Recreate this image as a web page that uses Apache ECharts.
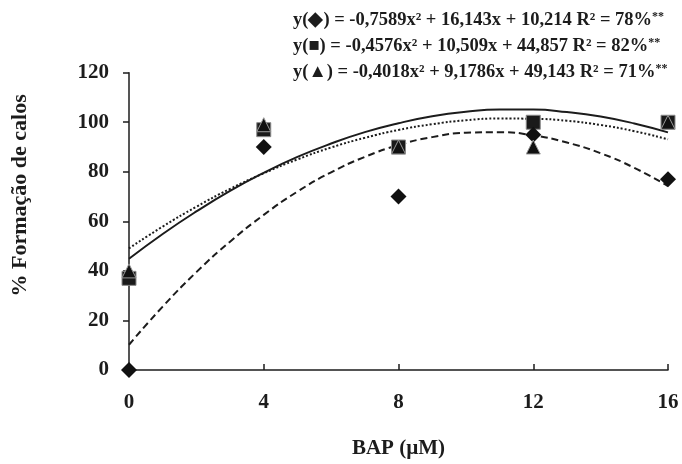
<!DOCTYPE html>
<html>
<head>
<meta charset="utf-8">
<style>
html,body{margin:0;padding:0;background:#fff;}
#c{width:682px;height:464px;}
</style>
<script src="https://cdn.jsdelivr.net/npm/echarts@6/dist/echarts.min.js"></script>
</head>
<body>
<div id="c"></div>
<script>
// Observed data (BAP µM vs % callus formation)
const bapDoses = [0, 4, 8, 12, 16];
const diamondValues = [0, 90, 70, 95, 77];
const squareValues = [37, 97, 90, 100, 100];
const triangleValues = [40, 99, 90, 90, 100];

// Regression curves read at each 1 µM step
const curveX = [0,1,2,3,4,5,6,7,8,9,10,11,12,13,14,15,16];
const diamondCurve = [10.2,25.6,39.5,51.8,62.6,72.0,79.8,86.0,90.8,94.0,95.8,96.0,94.7,91.8,87.5,81.6,74.2];
const squareCurve = [44.9,54.9,64.0,72.3,79.6,86.0,91.4,96.0,99.6,102.4,104.2,105.1,105.1,104.1,102.3,99.5,95.9];
const triangleCurve = [49.1,57.9,65.9,73.1,79.4,85.0,89.8,93.7,96.9,99.2,100.8,101.5,101.4,100.6,98.9,96.4,93.1];

const yTicks = [0, 20, 40, 60, 80, 100, 120];
const xTicks = [0, 4, 8, 12, 16];

const equations = [
  ['y(◆) = -0,7589x² + 16,143x + 10,214 R² = 78%', '**'],
  ['y(■) = -0,4576x² + 10,509x + 44,857 R² = 82%', '**'],
  ['y(▲) = -0,4018x² + 9,1786x + 49,143 R² = 71%', '**']
];

const ink = '#1c1c1c';
const serif = '"Liberation Serif", "Times New Roman", serif';

function pairs(xs, ys){ return xs.map((x,i)=>[x, ys[i]]); }

const chart = echarts.init(document.getElementById('c'), null, {renderer:'canvas'});
chart.setOption({
  backgroundColor: '#fff',
  animation: false,
  grid: { left: 129, right: 14, top: 72.7, bottom: 87 },
  xAxis: {
    type: 'value', min: 0, max: 16, interval: 4,
    name: 'BAP (µM)', nameLocation: 'middle', nameGap: 68,
    nameTextStyle: { fontFamily: serif, fontWeight: 'bold', fontSize: 21, color: ink },
    axisLine: { lineStyle: { color: ink, width: 1.5 } },
    axisTick: { inside: true, length: 6, lineStyle: { color: ink, width: 1.5 } },
    axisLabel: { fontFamily: serif, fontWeight: 'bold', fontSize: 21, color: ink, margin: 22,
      formatter: v => xTicks.includes(v) ? String(v) : '' },
    splitLine: { show: false }
  },
  yAxis: {
    type: 'value', min: 0, max: 120, interval: 20,
    name: '% Formação de calos', nameLocation: 'middle', nameGap: 98,
    nameTextStyle: { fontFamily: serif, fontWeight: 'bold', fontSize: 22, color: ink, padding: [0,0,0,52] },
    axisLine: { show: true, lineStyle: { color: ink, width: 1.5 } },
    axisTick: { show: true, length: 6, lineStyle: { color: ink, width: 1.5 } },
    axisLabel: { fontFamily: serif, fontWeight: 'bold', fontSize: 21, color: ink, margin: 20,
      formatter: v => yTicks.includes(v) ? String(v) : '' },
    splitLine: { show: false }
  },
  graphic: equations.map((eq, i) => ({
    type: 'text', left: 293, top: 11 + i * 26,
    style: {
      text: '{a|' + eq[0] + '}{s|' + eq[1] + '}',
      rich: {
        a: { fontFamily: serif, fontWeight: 'bold', fontSize: 18.5, fill: ink },
        s: { fontFamily: serif, fontWeight: 'bold', fontSize: 12, fill: ink, verticalAlign: 'top', padding: [0,0,6,0] }
      }
    }
  })),
  series: [
    { type: 'line', data: pairs(curveX, diamondCurve), smooth: true, symbol: 'none', z: 2,
      lineStyle: { color: ink, width: 2, type: [7, 4] } },
    { type: 'line', data: pairs(curveX, squareCurve), smooth: true, symbol: 'none', z: 2,
      lineStyle: { color: ink, width: 2, type: 'solid' } },
    { type: 'line', data: pairs(curveX, triangleCurve), smooth: true, symbol: 'none', z: 2,
      lineStyle: { color: ink, width: 2, type: [2, 2] } },
    { type: 'scatter', data: pairs(bapDoses, diamondValues), symbol: 'diamond', symbolSize: [16, 16], z: 5,
      itemStyle: { color: '#111', opacity: 1 } },
    { type: 'scatter', data: pairs(bapDoses, squareValues), symbol: 'rect', symbolSize: 14, z: 4,
      itemStyle: { color: '#1a1a1a', borderColor: '#8a8a8a', borderWidth: 1, opacity: 1 } },
    { type: 'scatter', data: pairs(bapDoses, triangleValues), symbol: 'triangle', symbolSize: 14, z: 6,
      itemStyle: { color: '#111', borderColor: '#9a9a9a', borderWidth: 1, opacity: 1 } }
  ]
});
</script>
</body>
</html>
